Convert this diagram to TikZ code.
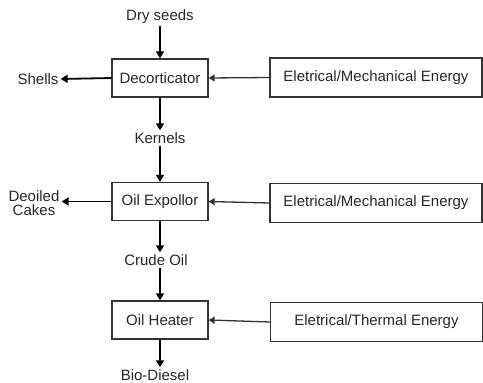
\documentclass[tikz,border=0pt]{standalone}
\usepackage{fontspec}
\setmainfont{Liberation Sans}
\usetikzlibrary{arrows.meta}
\begin{document}
\begin{tikzpicture}[x=1pt,y=1pt,
  txt/.style={font=\fontsize{15}{16}\selectfont,text=black!85},
  proc/.style={txt,draw=black!80,line width=1.3pt,minimum width=96pt,minimum height=38pt,inner sep=0pt},
  ebox/.style={txt,draw=black!80,line width=1.3pt,minimum width=212pt,minimum height=39pt,inner sep=0pt},
  lbl/.style={txt,inner sep=2pt,align=center},
  flow/.style={line width=1.8pt,-{Triangle[width=8pt,length=7pt]}},
  eflow/.style={line width=1.3pt,black!80,-{Triangle[width=7pt,length=6pt]}}]
\useasboundingbox (0,0) rectangle (483,-383);
\node[proc] (dec) at (160,-78) {Decorticator};
\node[proc] (exp) at (160,-201.5) {Oil Expollor};
\node[proc] (heat) at (160,-320) {Oil Heater};
\node[ebox] (e1) at (376,-77.5) {Eletrical/Mechanical Energy};
\node[ebox] (e2) at (376,-203) {Eletrical/Mechanical Energy};
\node[ebox] (e3) at (376.5,-322) {Eletrical/Thermal Energy};
\node[lbl] (dry) at (160,-17) {Dry seeds};
\node[lbl] (shells) at (38,-79) {Shells};
\node[lbl] (kern) at (160,-138) {Kernels};
\node[lbl,font=\fontsize{15}{14}\selectfont] (cakes) at (34,-203) {Deoiled\\Cakes};
\node[lbl] (crude) at (156,-260) {Crude Oil};
\node[lbl] (bio) at (155,-375) {Bio-Diesel};
\draw[flow] (dry) -- (dec);
\draw[flow] (dec.west) -- (shells.east);
\draw[flow] (dec) -- (kern);
\draw[flow] (kern) -- (exp);
\draw[flow] (exp.west) -- (cakes.east |- exp.west);
\draw[flow] (exp.south) -- (crude.north -| exp.south);
\draw[flow] (crude.south -| heat.north) -- (heat.north);
\draw[flow] (heat.south) -- (bio.north -| heat.south);
\draw[eflow] (e1.west) -- (dec.east);
\draw[eflow] (e2.west) -- (exp.east);
\draw[eflow] (e3.west) -- (heat.east);
\end{tikzpicture}
\end{document}
